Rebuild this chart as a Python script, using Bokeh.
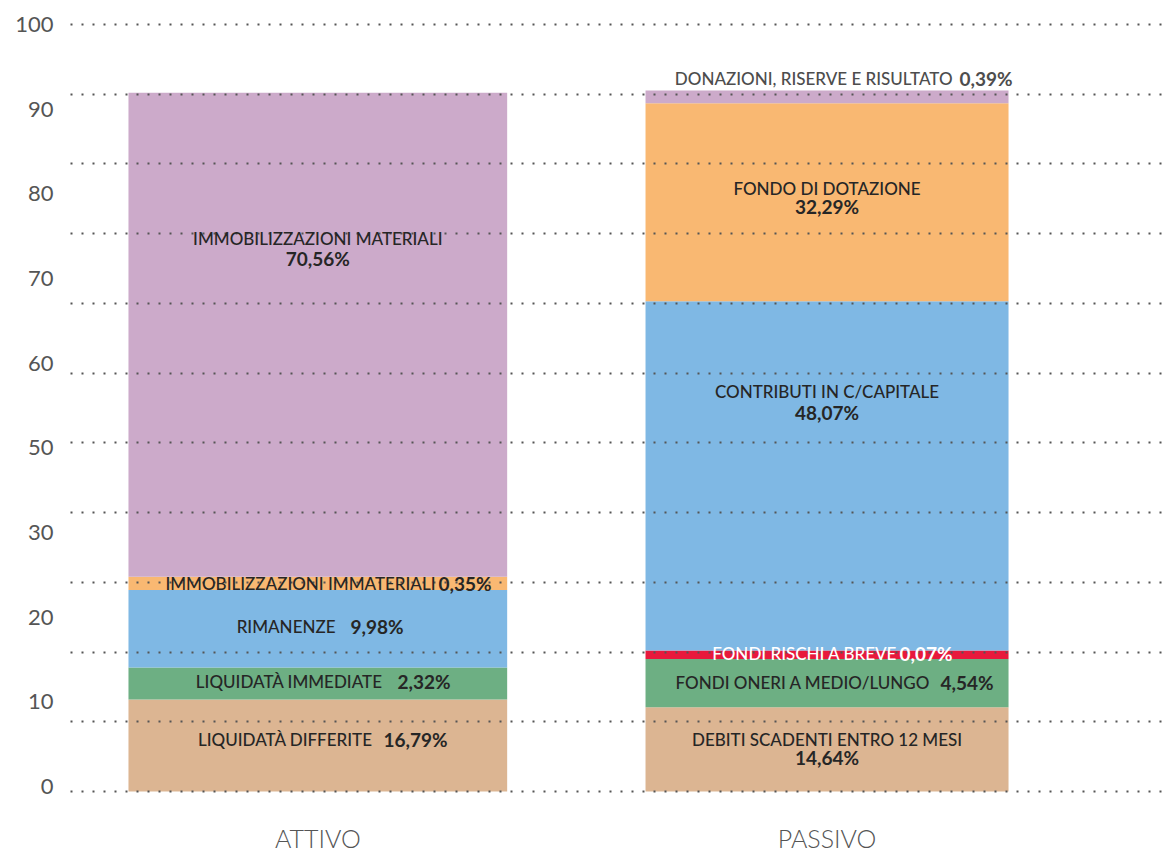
import numpy as np
from bokeh.plotting import figure
from bokeh.models import Range1d, FixedTicker, ColumnDataSource
from bokeh.core.properties import value
from bokeh.embed import file_html
from bokeh.resources import INLINE

# ---------------- data ----------------
categories = ["ATTIVO", "PASSIVO"]

attivo_voci = ["LIQUIDATÀ DIFFERITE", "LIQUIDATÀ IMMEDIATE", "RIMANENZE",
               "IMMOBILIZZAZIONI IMMATERIALI", "IMMOBILIZZAZIONI MATERIALI"]
attivo_pct = ["16,79%", "2,32%", "9,98%", "0,35%", "70,56%"]
attivo_altezze = [13.2, 4.6, 11.1, 1.9, 69.4]

passivo_voci = ["DEBITI SCADENTI ENTRO 12 MESI", "FONDI ONERI A MEDIO/LUNGO",
                "FONDI RISCHI A BREVE", "CONTRIBUTI IN C/CAPITALE",
                "FONDO DI DOTAZIONE", "DONAZIONI, RISERVE E RISULTATO"]
passivo_pct = ["14,64%", "4,54%", "0,07%", "48,07%", "32,29%", "0,39%"]
passivo_altezze = [12.07, 6.93, 1.23, 50.09, 28.4, 1.82]

y_tick_labels = ["0", "10", "20", "30", "50", "60", "70", "80", "90", "100"]

# ---------------- styles / layout ----------------
attivo_colori = ["#dcb592", "#6daf83", "#7fb8e4", "#f9b872", "#ccaaca"]
passivo_colori = ["#dcb592", "#6daf83", "#e8193c", "#7fb8e4", "#f9b872", "#ccaaca"]
bar_widths = [0.7437, 0.7129]

# ("one", name_right_dx, pct_left_dx, dy)  or ("two", name_dy, pct_dy)
attivo_layout = [("one", 54.7, 65.7, -6), ("one", 64.7, 79.7, -2),
                 ("one", 17.7, 32.7, -2), ("one", 117.7, 120.7, 0),
                 ("two", -96.6, -76.6)]
passivo_layout = [("two", -10, 8), ("one", 103.5, 113.5, -1),
                  ("one", 70.5, 72.5, -1), ("two", -84, -63),
                  ("two", -14, 4), ("one", 125.5, 132.5, -18)]
attivo_txtcol = ["#262626"] * 5
passivo_txtcol = ["#262626", "#262626", "#ffffff", "#262626", "#262626", "#4d4d4d"]

FONT = "Lato"
NAME_FONT = "Lato Medium"
GRID_COLOR = "#555555"

p = figure(width=1168, height=855, output_backend="svg", toolbar_location=None,
           x_range=Range1d(0.0143, 2.1706), y_range=Range1d(-0.573, 111.432),
           min_border_left=70, min_border_right=0, min_border_top=14,
           min_border_bottom=59, background_fill_color="white",
           border_fill_color="white")
p.outline_line_color = None

bars = dict(x=[], bottom=[], top=[], color=[], w=[])
groups = {k: dict(x=[], y=[], text=[], xo=[], yo=[], c=[]) for k in
          ("name_c", "name_r", "pct_c", "pct_l")}

def add_group(key, x, y, text, xo, yo, c):
    g = groups[key]
    g["x"].append(x); g["y"].append(y); g["text"].append(text)
    g["xo"].append(xo); g["yo"].append(yo); g["c"].append(c)

for i, (voci, pct, h, cols, lay, tcol) in enumerate([
        (attivo_voci, attivo_pct, attivo_altezze, attivo_colori, attivo_layout, attivo_txtcol),
        (passivo_voci, passivo_pct, passivo_altezze, passivo_colori, passivo_layout, passivo_txtcol)]):
    xc = i + 0.5
    tops = np.cumsum(h)
    bottoms = tops - np.array(h)
    mids = (tops + bottoms) / 2
    for j in range(len(h)):
        bars["x"].append(xc); bars["bottom"].append(bottoms[j]); bars["top"].append(tops[j])
        bars["color"].append(cols[j]); bars["w"].append(bar_widths[i])
        L = lay[j]
        if L[0] == "one":
            add_group("name_r", xc, mids[j], voci[j], L[1], L[3], tcol[j])
            add_group("pct_l", xc, mids[j], pct[j], L[2], L[3], tcol[j])
        else:
            add_group("name_c", xc, mids[j], voci[j], 0, L[1], tcol[j])
            add_group("pct_c", xc, mids[j], pct[j], 0, L[2], tcol[j])

p.vbar(x="x", bottom="bottom", top="top", width="w", fill_color="color",
       line_color=None, source=ColumnDataSource(bars))

specs = {"name_c": ("center", "normal", "17px", NAME_FONT),
         "name_r": ("right", "normal", "17px", NAME_FONT),
         "pct_c": ("center", "bold", "19px", FONT),
         "pct_l": ("left", "bold", "19px", FONT)}
for key, (align, style, size, fnt) in specs.items():
    p.text(x="x", y="y", text="text", x_offset="xo", y_offset="yo", text_color="c",
           text_align=align, text_baseline="middle", text_font=value(fnt),
           text_font_style=style, text_font_size=size,
           source=ColumnDataSource(groups[key]), level="annotation")

# grid
p.xgrid.visible = False
p.ygrid.ticker = FixedTicker(ticks=[10 * k for k in range(12)])
p.ygrid.grid_line_color = GRID_COLOR
p.ygrid.grid_line_width = 2
p.ygrid.grid_line_dash = "2 9"
p.ygrid.level = "guide"

# y axis
yt = [round(v, 2) for v in np.linspace(0.7, 110, len(y_tick_labels))]
p.yaxis.ticker = FixedTicker(ticks=yt)
p.yaxis.major_label_overrides = {t: l for t, l in zip(yt, y_tick_labels)}
p.yaxis.axis_line_color = None
p.yaxis.major_tick_line_color = None
p.yaxis.minor_tick_line_color = None
p.yaxis.major_tick_out = 0
p.yaxis.major_tick_in = 0
p.yaxis.major_label_standoff = 17
p.yaxis.major_label_text_font = FONT
p.yaxis.major_label_text_font_size = "22px"
p.yaxis.major_label_text_color = "#555555"

# x axis
xt = [i + 0.5 for i in range(len(categories))]
p.xaxis.ticker = FixedTicker(ticks=xt)
p.xaxis.major_label_overrides = {t: l for t, l in zip(xt, categories)}
p.xaxis.axis_line_color = None
p.xaxis.major_tick_line_color = None
p.xaxis.minor_tick_line_color = None
p.xaxis.major_label_standoff = 21
p.xaxis.major_label_text_font = "Lato Light"
p.xaxis.major_label_text_font_size = "25px"
p.xaxis.major_label_text_color = "#555555"

open("out.html", "w").write(file_html(p, INLINE))
